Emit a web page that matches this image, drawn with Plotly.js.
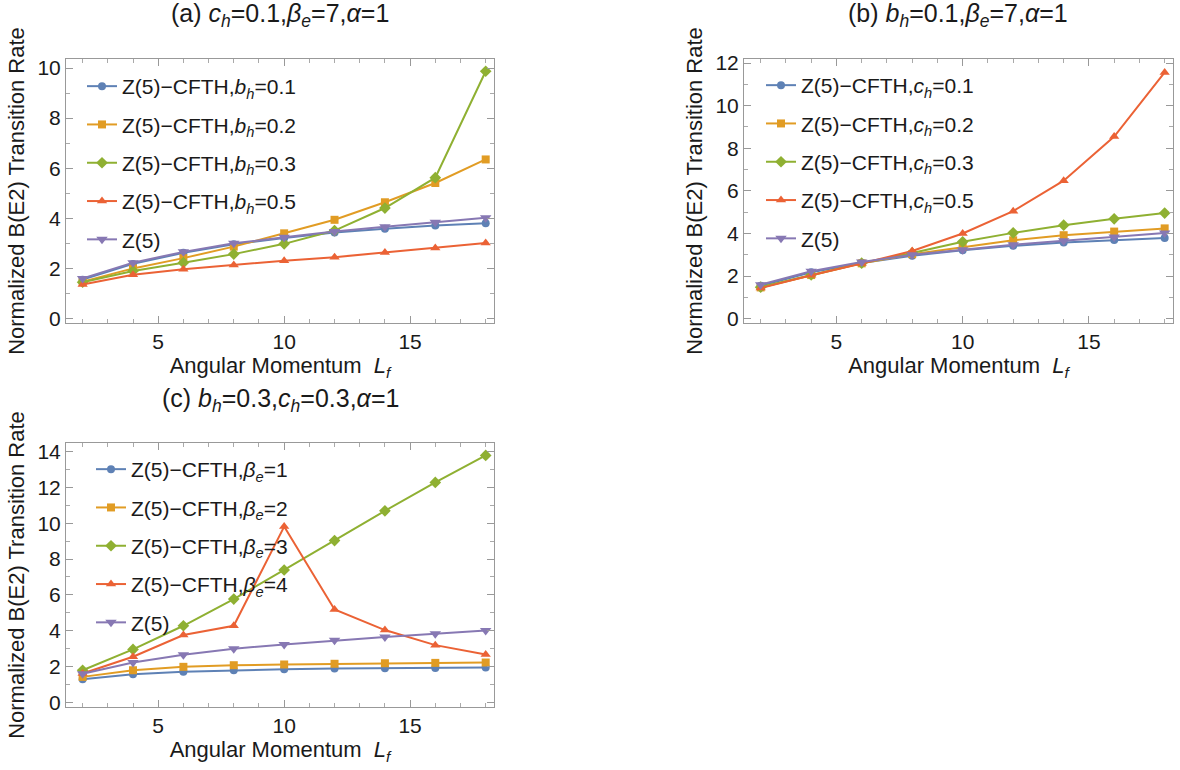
<!DOCTYPE html>
<html>
<head>
<meta charset="utf-8">
<script src="https://cdn.plot.ly/plotly-3.0.1.min.js"></script>
<style>html,body{margin:0;padding:0;background:#fff;}#chart{width:1180px;height:770px;}</style>
</head>
<body>
<div id="chart"></div>
<script>
// Angular momentum L_f
const L = [2, 4, 6, 8, 10, 12, 14, 16, 18];

// Reference Z(5)
const z5 = [1.60, 2.23, 2.66, 3.00, 3.24, 3.47, 3.66, 3.84, 4.02];

// Panel (a): c_h=0.1, beta_e=7, alpha=1, varying b_h
const a_bh01 = [1.55, 2.18, 2.62, 2.96, 3.21, 3.43, 3.58, 3.71, 3.80];
const a_bh02 = [1.47, 2.00, 2.41, 2.87, 3.40, 3.94, 4.64, 5.41, 6.35];
const a_bh03 = [1.45, 1.90, 2.23, 2.57, 2.98, 3.51, 4.41, 5.62, 9.87];
const a_bh05 = [1.36, 1.75, 1.97, 2.14, 2.31, 2.45, 2.63, 2.81, 3.01];

// Panel (b): b_h=0.1, beta_e=7, alpha=1, varying c_h
const b_ch01 = [1.55, 2.18, 2.62, 2.96, 3.21, 3.42, 3.58, 3.70, 3.79];
const b_ch02 = [1.47, 2.05, 2.60, 3.03, 3.37, 3.68, 3.92, 4.09, 4.24];
const b_ch03 = [1.48, 2.06, 2.61, 3.09, 3.61, 4.03, 4.39, 4.69, 4.96];
const b_ch05 = [1.44, 2.04, 2.59, 3.18, 4.00, 5.05, 6.48, 8.55, 11.56];

// Panel (c): b_h=0.3, c_h=0.3, alpha=1, varying beta_e
const c_be1 = [1.30, 1.58, 1.71, 1.80, 1.86, 1.89, 1.91, 1.93, 1.95];
const c_be2 = [1.43, 1.80, 1.99, 2.08, 2.12, 2.16, 2.19, 2.21, 2.23];
const c_be3 = [1.80, 2.96, 4.28, 5.77, 7.39, 9.03, 10.69, 12.27, 13.78];
const c_be4 = [1.62, 2.55, 3.76, 4.28, 9.81, 5.19, 4.04, 3.20, 2.68];

const legA = ["Z(5)−CFTH,<i>b</i><sub><i>h</i></sub>=0.1", "Z(5)−CFTH,<i>b</i><sub><i>h</i></sub>=0.2", "Z(5)−CFTH,<i>b</i><sub><i>h</i></sub>=0.3", "Z(5)−CFTH,<i>b</i><sub><i>h</i></sub>=0.5", "Z(5)"];
const legB = ["Z(5)−CFTH,<i>c</i><sub><i>h</i></sub>=0.1", "Z(5)−CFTH,<i>c</i><sub><i>h</i></sub>=0.2", "Z(5)−CFTH,<i>c</i><sub><i>h</i></sub>=0.3", "Z(5)−CFTH,<i>c</i><sub><i>h</i></sub>=0.5", "Z(5)"];
const legC = ["Z(5)−CFTH,<i>β</i><sub><i>e</i></sub>=1", "Z(5)−CFTH,<i>β</i><sub><i>e</i></sub>=2", "Z(5)−CFTH,<i>β</i><sub><i>e</i></sub>=3", "Z(5)−CFTH,<i>β</i><sub><i>e</i></sub>=4", "Z(5)"];

const colors = ["#5E81B5", "#E19C24", "#8FB032", "#EB6235", "#8778B3"];
const symbols = ["circle", "square", "diamond", "triangle-up", "triangle-down"];
const msizes = [8, 8, 9, 9, 10];

const FONT = "Liberation Sans, Arial, sans-serif";

function mk(series, names, xa, ya, leg, pfx) {
  return series.map((s, i) => ({
    x: L, y: s, name: names[i], type: "scatter", mode: "lines+markers",
    xaxis: xa, yaxis: ya, legend: leg, legendgroup: pfx + i,
    line: {color: colors[i], width: 2},
    marker: {color: colors[i], symbol: symbols[i], size: msizes[i]}
  }));
}

const traces = [].concat(
  mk([a_bh01, a_bh02, a_bh03, a_bh05, z5], legA, "x", "y", "legend", "a"),
  mk([b_ch01, b_ch02, b_ch03, b_ch05, z5], legB, "x2", "y2", "legend2", "b"),
  mk([c_be1, c_be2, c_be3, c_be4, z5], legC, "x3", "y3", "legend3", "c")
);

const W = 1180, H = 770;
function px(a, b) { return [a / W, b / W]; }
function py(top, bot) { return [1 - bot / H, 1 - top / H]; }

function xax(dom, anchor) {
  return {
    domain: dom, anchor: anchor, range: [1.34, 18.33],
    tick0: 0, dtick: 5, ticks: "inside", ticklen: 7, tickcolor: "#999",
    minor: {dtick: 1, ticks: "inside", ticklen: 4, tickcolor: "#aaa"},
    showline: true, linecolor: "#999", linewidth: 1, mirror: "ticks",
    showgrid: false, zeroline: false,
    tickfont: {family: FONT, size: 21, color: "#1a1a1a"},
    title: {text: "Angular Momentum  <i>L</i><sub><i>f</i></sub>", font: {family: FONT, size: 22, color: "#1a1a1a"}, standoff: 4}
  };
}
function yax(dom, anchor, range) {
  return {
    domain: dom, anchor: anchor, range: range,
    tick0: 0, dtick: 2, ticks: "inside", ticklen: 7, tickcolor: "#999",
    minor: {dtick: 1, ticks: "inside", ticklen: 4, tickcolor: "#aaa"},
    showline: true, linecolor: "#999", linewidth: 1, mirror: "ticks",
    showgrid: false, zeroline: false,
    tickfont: {family: FONT, size: 21, color: "#1a1a1a"},
    title: {text: "Normalized B(E2) Transition Rate", font: {family: FONT, size: 22, color: "#1a1a1a"}, standoff: 6}
  };
}
function leg(xpix, ypix) {
  return {
    x: xpix / W, y: 1 - ypix / H, xanchor: "left", yanchor: "top",
    bgcolor: "rgba(0,0,0,0)", borderwidth: 0, traceorder: "grouped", tracegroupgap: 8,
    font: {family: FONT, size: 21, color: "#1a1a1a"}
  };
}

const layout = {
  width: W, height: H,
  margin: {l: 0, r: 0, t: 0, b: 0},
  paper_bgcolor: "#fff", plot_bgcolor: "#fff",
  font: {family: FONT, color: "#1a1a1a"},
  showlegend: true,
  xaxis: xax(px(66, 494), "y"),
  yaxis: yax(py(59, 323), "x", [-0.18, 10.36]),
  xaxis2: xax(px(744, 1173), "y2"),
  yaxis2: yax(py(59, 323), "x2", [-0.2, 12.19]),
  xaxis3: xax(px(66, 494), "y3"),
  yaxis3: yax(py(443, 707), "x3", [-0.25, 14.47]),
  legend: leg(82, 66),
  legend2: leg(761, 65),
  legend3: leg(91, 449),
  annotations: [
    {text: "(a) <i>c</i><sub><i>h</i></sub>=0.1,<i>β</i><sub><i>e</i></sub>=7,<i>α</i>=1", x: 280 / W, y: 1 - 15 / H, xref: "paper", yref: "paper", xanchor: "center", yanchor: "middle", showarrow: false, font: {family: FONT, size: 25, color: "#1a1a1a"}},
    {text: "(b) <i>b</i><sub><i>h</i></sub>=0.1,<i>β</i><sub><i>e</i></sub>=7,<i>α</i>=1", x: 958 / W, y: 1 - 15 / H, xref: "paper", yref: "paper", xanchor: "center", yanchor: "middle", showarrow: false, font: {family: FONT, size: 25, color: "#1a1a1a"}},
    {text: "(c) <i>b</i><sub><i>h</i></sub>=0.3,<i>c</i><sub><i>h</i></sub>=0.3,<i>α</i>=1", x: 280 / W, y: 1 - 400 / H, xref: "paper", yref: "paper", xanchor: "center", yanchor: "middle", showarrow: false, font: {family: FONT, size: 25, color: "#1a1a1a"}}
  ]
};

Plotly.newPlot("chart", traces, layout, {staticPlot: true, displayModeBar: false});
</script>
</body>
</html>
